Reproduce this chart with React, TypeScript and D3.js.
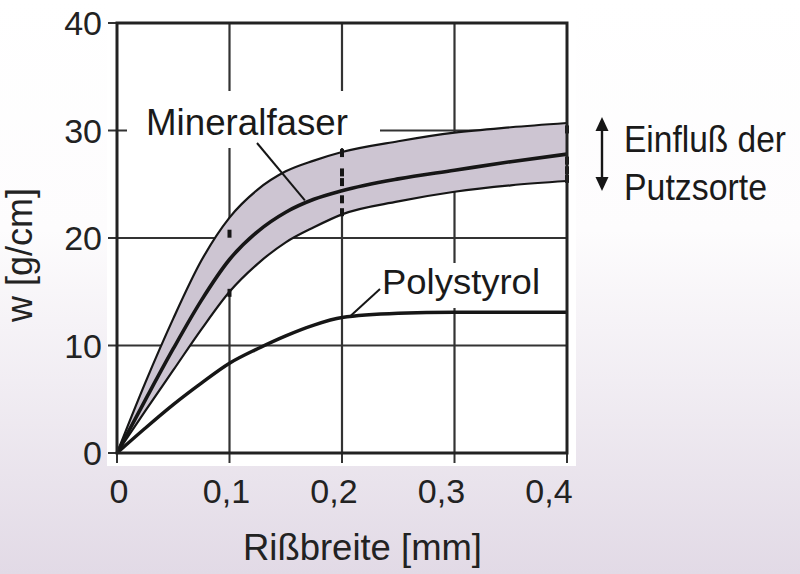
import React from "react";
import * as d3 from "d3";

const W = 800;
const H = 574;

// x positions (Rißbreite in mm)
const xs = [0, 0.025, 0.05, 0.075, 0.1, 0.125, 0.15, 0.175, 0.2, 0.25, 0.3, 0.35, 0.4];
// Mineralfaser band (upper / lower) and mean curve, w [g/cm]
const mineralUpper = [0, 6.5, 12.5, 17.9, 21.9, 24.5, 26.2, 27.2, 28.0, 29.0, 29.8, 30.3, 30.7];
const mineralMean = [0, 4.9, 9.7, 14.2, 18.0, 20.6, 22.4, 23.6, 24.4, 25.5, 26.3, 27.1, 27.8];
const mineralLower = [0, 3.9, 7.7, 11.5, 15.0, 17.6, 19.6, 21.0, 22.2, 23.4, 24.3, 24.9, 25.3];
// Polystyrol curve
const polystyrol = [0, 2.3, 4.5, 6.5, 8.35, 9.7, 10.9, 11.9, 12.6, 13.0, 13.1, 13.1, 13.1];

// measured points (x, w)
const pointX = [0.1, 0.1, 0.2, 0.2, 0.2, 0.2, 0.2, 0.4, 0.4, 0.4, 0.4];
const pointY = [20.4, 14.9, 27.9, 26.1, 25.2, 23.6, 22.4, 30.1, 27.2, 26.3, 25.5];

const xTicks = [0, 0.1, 0.2, 0.3, 0.4];
const xTickLabels = ["0", "0,1", "0,2", "0,3", "0,4"];
const yTicks = [0, 10, 20, 30, 40];
const yTickLabels = ["0", "10", "20", "30", "40"];

const xTitle = "Rißbreite [mm]";
const yTitle = "w [g/cm]";
const labelMineral = "Mineralfaser";
const labelPoly = "Polystyrol";
const noteLine1 = "Einfluß der";
const noteLine2 = "Putzsorte";

const FONT = "'Liberation Sans', Arial, Helvetica, sans-serif";

export default function App() {
  const x = d3.scaleLinear().domain([0, 0.4]).range([117, 567]);
  const y = d3.scaleLinear().domain([0, 40]).range([453, 23]);

  const line = (vals: number[]) =>
    d3
      .line<number>()
      .x((_, i) => x(xs[i]))
      .y((d) => y(d))
      .curve(d3.curveMonotoneX)(vals) || "";

  const area =
    d3
      .area<number>()
      .x((_, i) => x(xs[i]))
      .y0((_, i) => y(mineralLower[i]))
      .y1((d) => y(d))
      .curve(d3.curveMonotoneX)(mineralUpper) || "";

  const gridColor = "#333";
  const ink = "#161616";

  return (
    <svg
      width={W}
      height={H}
      style={{ position: "absolute", left: 0, top: 0, display: "block" }}
      fontFamily={FONT}
    >
      <defs>
        <linearGradient id="bg" x1="0" y1="0" x2="0" y2="1">
          <stop offset="0%" stopColor="#ffffff" />
          <stop offset="40%" stopColor="#fdfcfd" />
          <stop offset="100%" stopColor="#e2dae6" />
        </linearGradient>
      </defs>
      <rect x={0} y={0} width={W} height={H} fill="url(#bg)" />
      <rect x={107} y={0} width={469} height={466} fill="#ffffff" />

      {/* grid lines */}
      {xTicks.slice(1, -1).map((t) => (
        <line key={"gx" + t} x1={x(t)} x2={x(t)} y1={y(40)} y2={y(0)} stroke={gridColor} strokeWidth={2.2} />
      ))}
      {yTicks.slice(1, -1).map((t) => (
        <line key={"gy" + t} x1={x(0)} x2={x(0.4)} y1={y(t)} y2={y(t)} stroke={gridColor} strokeWidth={2.2} />
      ))}
      {/* ticks outward */}
      {yTicks.map((t) => (
        <line key={"ty" + t} x1={108} x2={x(0)} y1={y(t)} y2={y(t)} stroke={gridColor} strokeWidth={2} />
      ))}
      {xTicks.map((t) => (
        <line key={"tx" + t} x1={x(t)} x2={x(t)} y1={y(0)} y2={463} stroke={gridColor} strokeWidth={2} />
      ))}

      {/* label backgrounds */}
      <rect x={127} y={91} width={253} height={57} fill="#ffffff" />
      <rect x={377} y={263} width={168} height={45} fill="#ffffff" />

      {/* band */}
      <path d={area} fill="#cdc5d2" stroke="none" />
      <path d={line(mineralUpper)} fill="none" stroke={ink} strokeWidth={2.2} />
      <path d={line(mineralLower)} fill="none" stroke={ink} strokeWidth={2.2} />
      <path d={line(mineralMean)} fill="none" stroke={ink} strokeWidth={3.6} />
      <path d={line(polystyrol)} fill="none" stroke={ink} strokeWidth={3.4} />

      {/* measured points */}
      {pointX.map((px, i) => (
        <rect key={"p" + i} x={x(px) - 2} y={y(pointY[i]) - 4} width={4} height={8} fill={ink} />
      ))}

      {/* leader lines */}
      <line x1={257} y1={143} x2={x(0.167)} y2={y(23.5)} stroke={ink} strokeWidth={2} />
      <line x1={380} y1={289} x2={x(0.208)} y2={y(12.8)} stroke={ink} strokeWidth={2} />

      {/* frame */}
      <rect x={x(0)} y={y(40)} width={x(0.4) - x(0)} height={y(0) - y(40)} fill="none" stroke="#222" strokeWidth={3} />

      {/* tick labels */}
      {yTicks.map((t, i) => (
        <text key={"yl" + t} x={102} y={y(t) + 12} fontSize={34} textAnchor="end" fill="#222">
          {yTickLabels[i]}
        </text>
      ))}
      {xTicks.map((t, i) => (
        <text key={"xl" + t} x={x(t) + 2 - (t / 0.4) * 20} y={503} fontSize={34} textAnchor="middle" fill="#222">
          {xTickLabels[i]}
        </text>
      ))}

      {/* axis titles */}
      <text x={243} y={560} fontSize={37} textLength={239} lengthAdjust="spacingAndGlyphs" fill="#222">
        {xTitle}
      </text>
      <text
        transform="translate(32,322) rotate(-90)"
        x={0}
        y={0}
        fontSize={36}
        textLength={134}
        lengthAdjust="spacingAndGlyphs"
        fill="#222"
      >
        {yTitle}
      </text>

      {/* series labels */}
      <text x={146} y={135} fontSize={37} textLength={202} lengthAdjust="spacingAndGlyphs" fill="#1a1a1a">
        {labelMineral}
      </text>
      <text x={382} y={294} fontSize={35} textLength={158} lengthAdjust="spacingAndGlyphs" fill="#1a1a1a">
        {labelPoly}
      </text>

      {/* influence arrow */}
      <line x1={602} x2={602} y1={128} y2={180} stroke={ink} strokeWidth={2.4} />
      <path d="M602,117 L595.5,131 L608.5,131 Z" fill={ink} />
      <path d="M602,191 L595.5,177 L608.5,177 Z" fill={ink} />
      <text x={624} y={152} fontSize={36} textLength={162} lengthAdjust="spacingAndGlyphs" fill="#1a1a1a">
        {noteLine1}
      </text>
      <text x={624} y={200} fontSize={36} textLength={143} lengthAdjust="spacingAndGlyphs" fill="#1a1a1a">
        {noteLine2}
      </text>
    </svg>
  );
}
